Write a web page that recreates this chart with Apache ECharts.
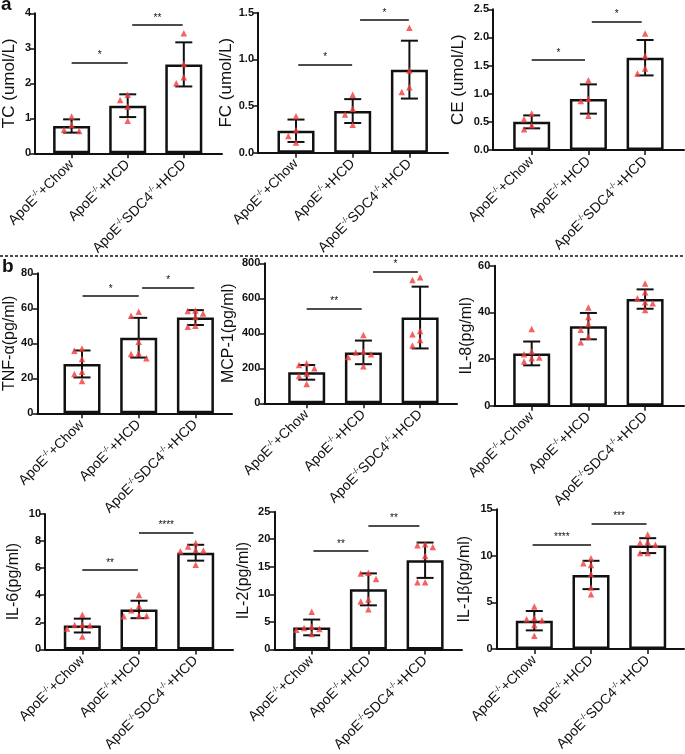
<!DOCTYPE html>
<html><head><meta charset="utf-8">
<script src="https://cdn.jsdelivr.net/npm/echarts@6/dist/echarts.min.js"></script>
<style>html,body{margin:0;padding:0;background:#fff}#c{width:685px;height:754px}</style>
</head><body><div id="c"></div>
<script>
// ---- categories ----
const groups = [['ApoE','-/-','+Chow'], ['ApoE','-/-','+HCD'], ['ApoE','-/-','SDC4','-/-','+HCD']];

// ---- panel a ----
const tcMean = [0.78, 1.36, 2.54];
const tcSD = [0.19, 0.325, 0.63];
const tcPts = [[1.05, 0.81, 0.67, 0.64], [1.67, 1.52, 1.33, 0.93], [3.43, 2.55, 2.17, 2.0]];
const tcSig = [[0, 1, 2.59, '*'], [1.08, 1.98, 3.67, '**']];

const fcMean = [0.235, 0.446, 0.89];
const fcSD = [0.12, 0.128, 0.31];
const fcPts = [[0.39, 0.24, 0.18, 0.11], [0.62, 0.47, 0.41, 0.30], [1.34, 0.88, 0.70, 0.65]];
const fcSig = [[0.04, 0.99, 0.946, '*'], [1.13, 1.99, 1.42, '*']];

const ceMean = [0.50, 0.906, 1.64];
const ceSD = [0.115, 0.26, 0.315];
const cePts = [[0.65, 0.545, 0.44, 0.37], [1.24, 0.91, 0.87, 0.61], [2.07, 1.67, 1.45, 1.36]];
const ceSig = [[0, 0.94, 1.60, '*'], [1.06, 1.94, 2.28, '*']];

// ---- panel b ----
const tnfMean = [28.2, 43.2, 54.7];
const tnfSD = [7.7, 11.35, 4.25];
const tnfPts = [[37.1, 35.8, 31.0, 23.8, 22.5, 18.5], [58.1, 55.8, 40.9, 34.3, 33.9, 31.4], [58.8, 58.5, 57.0, 55.0, 50.0, 49.5]];
const tnfSig = [[0.01, 1.0, 67.0, '*'], [1.06, 1.98, 71.8, '*']];

const mcpMean = [177, 291, 490];
const mcpSD = [42, 67.5, 176.5];
const mcpPts = [[229, 219, 200, 171, 156, 110], [390, 295, 290, 280, 265, 212], [720, 705, 413, 395, 362, 330]];
const mcpSig = [[0, 0.97, 543, '**'], [1.17, 1.96, 752, '*']];

const il8Mean = [22.4, 34.1, 45.7];
const il8SD = [5.1, 5.65, 4.15];
const il8Pts = [[32.9, 23.2, 22.1, 20.7, 20.3, 18.9], [42.1, 38, 35, 32.5, 29.6, 27.2], [52.4, 48.6, 46, 44.3, 43.9, 41]];
const il8Sig = [];

const il6Mean = [1.76, 2.95, 7.14];
const il6SD = [0.51, 0.645, 0.585];
const il6Pts = [[2.55, 1.82, 1.8, 1.76, 1.55, 0.95], [4.02, 3.2, 2.9, 2.5, 2.48, 2.45], [7.85, 7.6, 7.35, 7.3, 7.25, 6.25]];
const il6Sig = [[0, 0.98, 5.86, '**'], [1.0, 1.96, 8.62, '****']];

const il2Mean = [3.99, 10.9, 16.19];
const il2SD = [1.43, 2.9, 3.21];
const il2Pts = [[6.85, 4.1, 3.9, 3.7, 3.55, 2.8], [13.9, 13.8, 12.8, 9.05, 8.7, 7.3], [19.1, 18.9, 18.57, 16.96, 12.2, 12.2]];
const il2Sig = [[0.03, 1.0, 17.86, '**'], [1.0, 1.9, 22.5, '**']];

const il1bMean = [3.04, 7.95, 11.1];
const il1bSD = [1.04, 1.52, 0.8];
const il1bPts = [[4.55, 3.29, 3.19, 3.1, 2.58, 1.43], [9.74, 9.2, 9.02, 8.06, 6.6, 5.87], [12.3, 11.5, 11.4, 11.2, 10.3, 10.3]];
const il1bSig = [[-0.03, 1.0, 11.24, '****'], [1.01, 1.98, 13.5, '***']];

// ---- axes (names, ranges, tick steps) ----
const yNames = ['TC (umol/L)', 'FC (umol/L)', 'CE (umol/L)', 'TNF-α(pg/ml)', 'MCP-1(pg/ml)', 'IL-8(pg/ml)', 'IL-6(pg/ml)', 'IL-2(pg/ml)', 'IL-1β(pg/ml)'];
const yMax = [4, 1.5, 2.5, 80, 800, 60, 10, 25, 15];
const yStep = [1, 0.5, 0.5, 20, 200, 20, 2, 5, 5];
const yDec = [0, 1, 1, 0, 0, 0, 0, 0, 0];

const data = [
  [tcMean, tcSD, tcPts, tcSig], [fcMean, fcSD, fcPts, fcSig], [ceMean, ceSD, cePts, ceSig],
  [tnfMean, tnfSD, tnfPts, tnfSig], [mcpMean, mcpSD, mcpPts, mcpSig], [il8Mean, il8SD, il8Pts, il8Sig],
  [il6Mean, il6SD, il6Pts, il6Sig], [il2Mean, il2SD, il2Pts, il2Sig], [il1bMean, il1bSD, il1bPts, il1bSig]
];

// ---- layout (pixels): axis x, top y, zero y, right end x, first bar centre x, title gap ----
const layout = [
  [33, 13.3, 153.3, 222, 70, 17], [258, 12.7, 152.7, 448, 296, 17], [493, 9.3, 150, 684, 531.7, 26],
  [37.3, 273.3, 413.3, 232, 82, 18], [264.3, 263.3, 403.3, 457, 306.7, 28], [494.3, 265.7, 405.7, 684, 531.7, 20],
  [45, 514, 654, 233, 82.3, 23], [274.3, 511.7, 651.7, 462, 311.7, 23], [496.7, 509.3, 649, 684, 534.3, 24]
];
const SPACING = 56.7;
const FONT = 'Liberation Sans, Arial, sans-serif';
const NARROW = 'Liberation Sans Narrow, Arial Narrow, Liberation Sans, Arial, sans-serif';
const INK = '#111';

function labelText(parts) {
  return parts.map(p => (p === '-/-' ? '{s|' + p + '}' : '{n|' + p + '}')).join('');
}

function swarm(vals, pxPerUnit) {
  const order = vals.map((v, i) => i).sort((a, b) => vals[b] - vals[a]);
  const off = new Array(vals.length).fill(0);
  const placed = [];
  const slots = [0, -1, 1, -2, 2];
  for (const i of order) {
    for (const s of slots) {
      const clash = placed.some(j => off[j] === s && Math.abs(vals[j] - vals[i]) * pxPerUnit < 6.5);
      if (!clash) { off[i] = s; break; }
    }
    placed.push(i);
  }
  return off;
}

const grids = [], xAxes = [], yAxes = [], series = [];
layout.forEach((L, i) => {
  const [ax, top, zero, right, first, gap] = L;
  const [mean, sd, pts, sig] = data[i];
  const h = zero - top;
  grids.push({ left: ax, top: top, width: right - ax, height: h });
  const xmin = -(first - ax) / SPACING;
  const xmax = 2 + (right - (first + 2 * SPACING)) / SPACING;
  xAxes.push({
    gridIndex: i, type: 'value', min: xmin, max: xmax,
    splitLine: { show: false },
    axisLine: { show: true, onZero: false, lineStyle: { color: INK, width: 2 } },
    axisTick: { show: true, customValues: [0, 1, 2], length: 5, lineStyle: { color: INK, width: 1.5 } },
    axisLabel: {
      customValues: [0, 1, 2], rotate: 45, margin: 9, color: INK,
      formatter: v => labelText(groups[Math.round(v)]),
      rich: {
        n: { fontSize: 14, fontFamily: FONT, color: INK, lineHeight: 16 },
        s: { fontSize: 8, fontFamily: FONT, color: INK, lineHeight: 16, verticalAlign: 'top', padding: [0, 0, 6, 0] }
      }
    }
  });
  yAxes.push({
    gridIndex: i, type: 'value', min: 0, max: yMax[i], interval: yStep[i],
    splitLine: { show: false },
    axisLine: { show: true, onZero: false, lineStyle: { color: INK, width: 2 } },
    axisTick: { show: true, length: 5, lineStyle: { color: INK, width: 1.5 } },
    axisLabel: { color: INK, fontSize: 11, fontWeight: 'bold', fontFamily: NARROW, margin: 4, formatter: v => v.toFixed(yDec[i]) },
    name: yNames[i], nameLocation: 'middle', nameGap: gap, nameRotate: 90,
    nameTextStyle: { fontSize: i < 3 ? 17 : 16, fontFamily: FONT, color: INK }
  });
  series.push({
    type: 'bar', xAxisIndex: i, yAxisIndex: i, barWidth: 37, z: 2,
    data: mean.map((m, k) => [k, m]),
    itemStyle: { color: '#fff', borderColor: INK, borderWidth: 2.5 },
    markLine: {
      silent: true, symbol: ['none', 'none'], animation: false,
      lineStyle: { color: INK, width: 1.5, type: 'solid' },
      label: { show: true, position: 'insideMiddleTop', formatter: '{b}', color: INK, fontSize: 10, fontFamily: FONT, distance: 2 },
      data: sig.map(s => [{ name: s[3], coord: [s[0], s[2]] }, { coord: [s[1], s[2]] }])
    }
  });
  series.push({
    type: 'custom', xAxisIndex: i, yAxisIndex: i, z: 3, clip: false,
    data: mean.map((m, k) => [k, m, sd[k]]),
    renderItem: (params, api) => {
      const x = api.value(0), m = api.value(1), s = api.value(2);
      const t = api.coord([x, m + s]), b = api.coord([x, m - s]);
      const hw = 8.5, st = { stroke: INK, lineWidth: 2 };
      return { type: 'group', children: [
        { type: 'line', shape: { x1: t[0], y1: t[1], x2: b[0], y2: b[1] }, style: st },
        { type: 'line', shape: { x1: t[0] - hw, y1: t[1], x2: t[0] + hw, y2: t[1] }, style: st },
        { type: 'line', shape: { x1: b[0] - hw, y1: b[1], x2: b[0] + hw, y2: b[1] }, style: st }
      ] };
    }
  });
  const pxPerUnit = h / yMax[i];
  const pdata = [];
  pts.forEach((vals, k) => {
    const off = swarm(vals, pxPerUnit);
    vals.forEach((v, j) => pdata.push([k + off[j] * 0.135, v]));
  });
  series.push({
    type: 'scatter', xAxisIndex: i, yAxisIndex: i, z: 4,
    symbol: 'triangle', symbolSize: 6.5, data: pdata,
    itemStyle: { color: '#f23b3b' }
  });
});

const chart = echarts.init(document.getElementById('c'), null, { renderer: 'canvas' });
chart.setOption({
  animation: false,
  backgroundColor: '#fff',
  grid: grids, xAxis: xAxes, yAxis: yAxes, series: series,
  graphic: [
    { type: 'text', left: 1, top: -5, style: { text: 'a', font: 'bold 19px Liberation Sans, Arial', fill: INK } },
    { type: 'text', left: 2, top: 257, style: { text: 'b', font: 'bold 19px Liberation Sans, Arial', fill: INK } },
    { type: 'line', shape: { x1: 0, y1: 256, x2: 685, y2: 256 }, style: { stroke: INK, lineWidth: 1.5, lineDash: [3, 2] } }
  ]
});
</script></body></html>
